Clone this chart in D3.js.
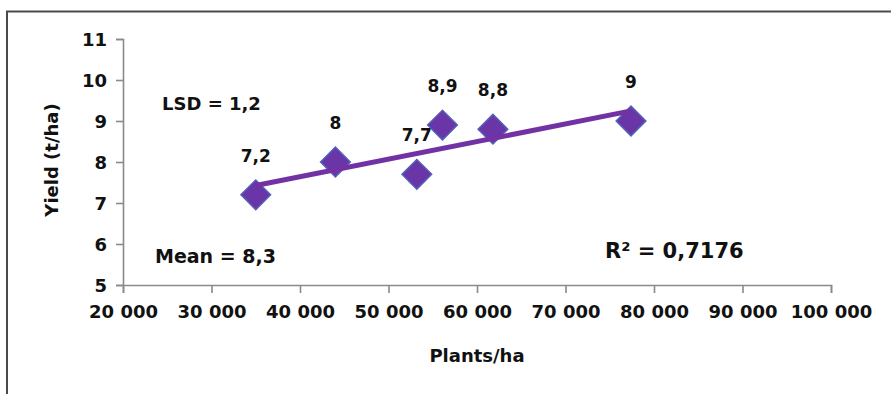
<!DOCTYPE html>
<html>
<head>
<meta charset="utf-8">
<script src="https://cdn.jsdelivr.net/npm/d3@7"></script>
<style>
  html, body { margin: 0; padding: 0; background: #fff; }
  svg { display: block; }
  text { font-family: "DejaVu Sans", sans-serif; font-weight: bold; fill: #111; }
</style>
</head>
<body>
<svg id="chart" width="891" height="394"></svg>
<script>
// ---- data ----
const plants = [35000, 44000, 53200, 56100, 61800, 77400];
const yields = [7.2, 8, 7.7, 8.9, 8.8, 9];
const pointLabels = ["7,2", "8", "7,7", "8,9", "8,8", "9"];
const xTicks = [20000, 30000, 40000, 50000, 60000, 70000, 80000, 90000, 100000];
const yTicks = [5, 6, 7, 8, 9, 10, 11];
const xTitle = "Plants/ha";
const yTitle = "Yield (t/ha)";
const annotations = ["LSD = 1,2", "Mean = 8,3"];
const r2Text = "R² = 0,7176";

const svg = d3.select("#chart");
const x = d3.scaleLinear().domain([20000, 100000]).range([123, 831]);
const y = d3.scaleLinear().domain([5, 11]).range([285, 39]);
const loc = d3.formatLocale({ decimal: ",", thousands: " ", grouping: [3], currency: ["", ""] });
const fmt = loc.format(",d");

// frame
svg.append("path")
  .attr("d", "M7,394 L7,11.5 L891,11.5")
  .attr("fill", "none").attr("stroke", "#4a4a4a").attr("stroke-width", 2);

// axes
const xAxis = svg.append("g").attr("transform", "translate(0,285)")
  .call(d3.axisBottom(x).tickValues(xTicks).tickFormat(fmt).tickSizeInner(8).tickSizeOuter(8).tickPadding(8));
const yAxis = svg.append("g").attr("transform", "translate(123,0)")
  .call(d3.axisLeft(y).tickValues(yTicks).tickFormat(d3.format("d")).tickSizeInner(7).tickSizeOuter(7).tickPadding(9));
[xAxis, yAxis].forEach(a => {
  a.selectAll("path, line").attr("stroke", "#8a8a8a").attr("stroke-width", 1.6);
  a.selectAll("text").style("font-size", "18px").attr("fill", "#111");
});
xAxis.selectAll("text").attr("dy", "0.95em");
yAxis.selectAll("text").attr("dy", "0.36em");

// titles
svg.append("text").attr("x", 477).attr("y", 362).attr("text-anchor", "middle")
  .style("font-size", "18px").text(xTitle);
svg.append("text").attr("transform", "translate(58,160) rotate(-90)").attr("text-anchor", "middle")
  .style("font-size", "18px").text(yTitle);

// points
const data = plants.map((p, i) => ({ p, v: yields[i], label: pointLabels[i] }));
svg.append("g").selectAll("path").data(data).join("path")
  .attr("d", d3.symbol(d3.symbolSquare, 440))
  .attr("transform", d => `translate(${x(d.p)},${y(d.v)}) rotate(45)`)
  .attr("fill", "#6a35a6").attr("stroke", "#5360b8").attr("stroke-width", 1.5);

// linear trendline (least squares on the data)
const mx = d3.mean(plants), my = d3.mean(yields);
const sxy = d3.sum(plants, (p, i) => (p - mx) * (yields[i] - my));
const sxx = d3.sum(plants, p => (p - mx) ** 2);
const slope = sxy / sxx, icpt = my - slope * mx;
const ext = d3.extent(plants);
svg.append("line")
  .attr("x1", x(ext[0])).attr("y1", y(icpt + slope * ext[0]))
  .attr("x2", x(ext[1])).attr("y2", y(icpt + slope * ext[1]))
  .attr("stroke", "#7232a4").attr("stroke-width", 5);

// point labels
svg.append("g").selectAll("text").data(data).join("text")
  .attr("x", d => x(d.p)).attr("y", d => y(d.v) - 33)
  .attr("text-anchor", "middle").style("font-size", "17px").text(d => d.label);

// annotations
svg.append("text").attr("x", 162).attr("y", 110).style("font-size", "18px").text(annotations[0]);
svg.append("text").attr("x", 155).attr("y", 263).style("font-size", "19px").text(annotations[1]);
svg.append("text").attr("x", 605).attr("y", 258).style("font-size", "21px").text(r2Text);
</script>
</body>
</html>
